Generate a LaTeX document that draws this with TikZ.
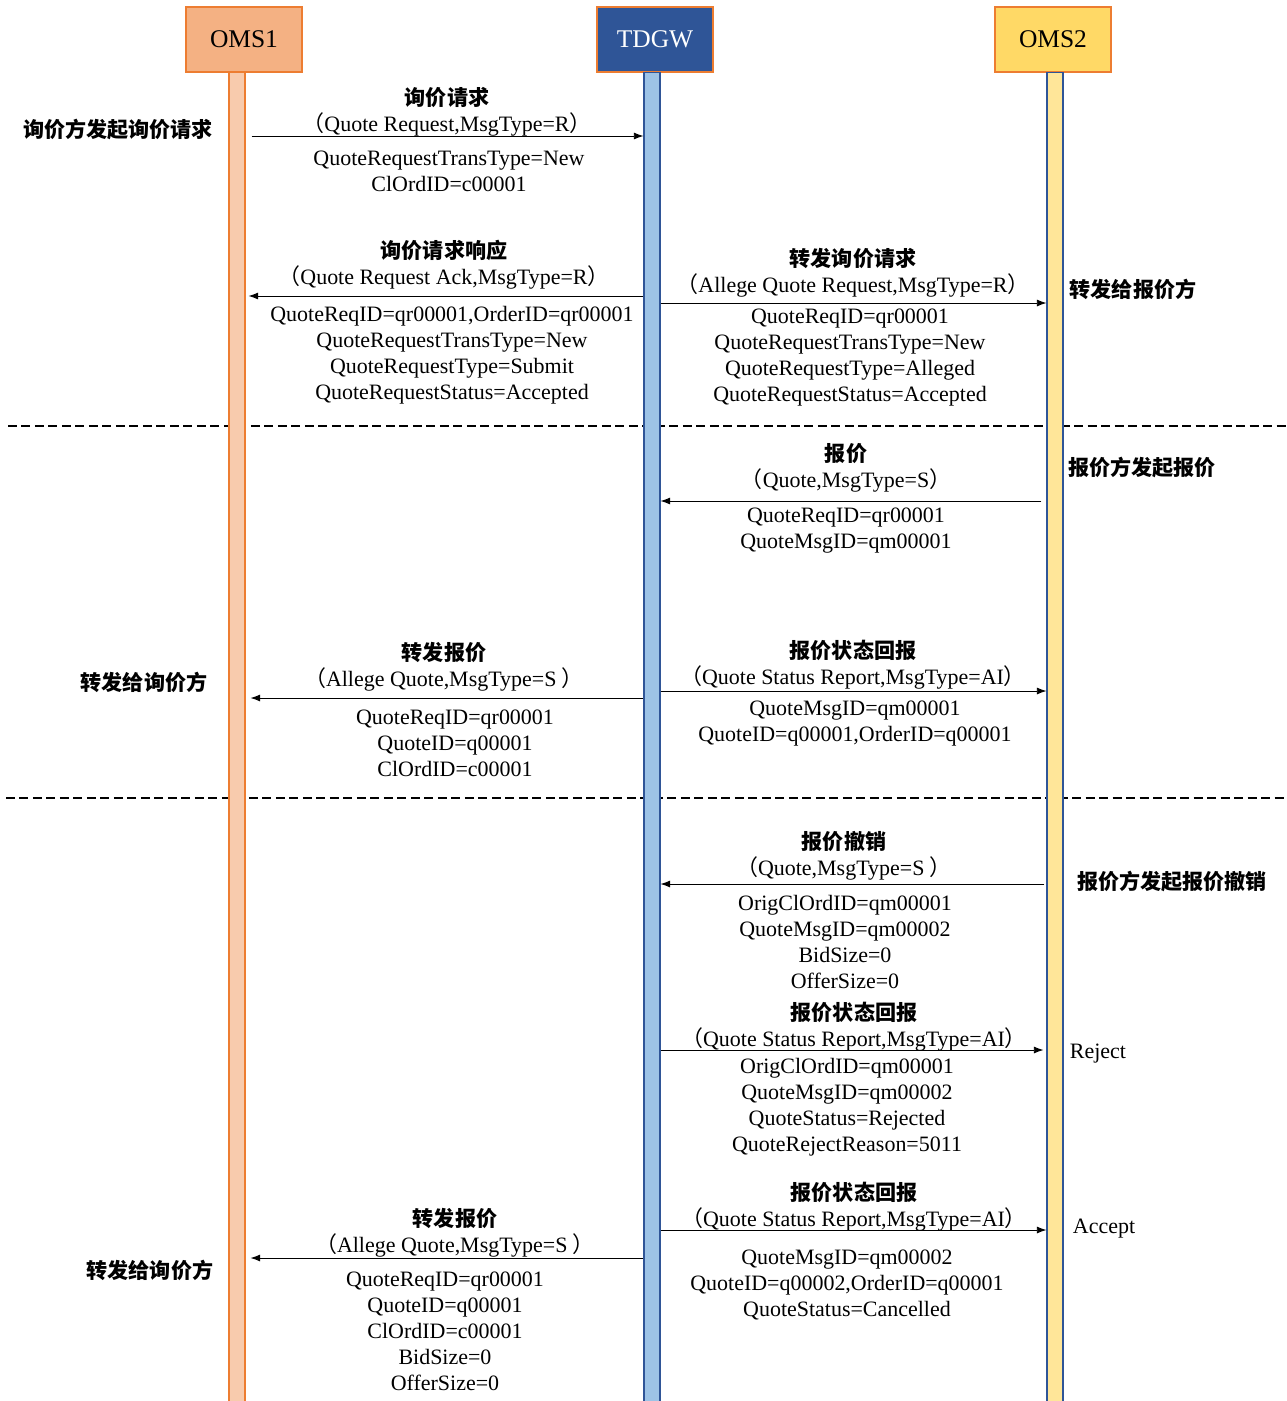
\documentclass[tikz,border=0pt]{standalone}
\usepackage{fontspec}
\setmainfont{Liberation Serif}
\newfontfamily\cjk{Noto Sans CJK SC}
\usetikzlibrary{arrows.meta}

\definecolor{omsAhead}{HTML}{F4B183}
\definecolor{omsAlife}{HTML}{F8CBAD}
\definecolor{gwhead}{HTML}{2F5597}
\definecolor{gwlife}{HTML}{9DC3E6}
\definecolor{omsBhead}{HTML}{FFD966}
\definecolor{omsBlife}{HTML}{FFE699}
\definecolor{edgeorange}{HTML}{ED7D31}
\definecolor{edgeblue}{HTML}{2F5597}

\newcommand{\zh}[1]{{\cjk\bfseries\fontsize{12}{14.8}\selectfont #1}}
\newcommand{\zp}[1]{{\cjk #1}}

\tikzset{
  head/.style={draw=edgeorange, line width=0.6pt, minimum width=2.32cm, minimum height=1.3cm,
               inner sep=0pt, font=\fontsize{14.5}{16}\selectfont},
  life/.style={line width=0.6pt, minimum width=0.32cm, minimum height=26.8cm, inner sep=0pt, anchor=north},
  msg/.style={-{Latex[length=5.5pt,width=4pt]}, line width=0.5pt},
  txt/.style={align=center, inner sep=0pt, font=\fontsize{12.5}{14.8}\selectfont},
  side/.style={inner sep=0pt, font=\cjk\bfseries\fontsize{12}{14}\selectfont},
  sep/.style={dash pattern=on 0.18cm off 0.09cm, line width=0.6pt},
}

\begin{document}
\begin{tikzpicture}[x=0.02cm, y=-0.02cm]
  \useasboundingbox (0,0) rectangle (1287,1401);

  % phase separators
  \draw[sep] (8,426) -- (1287,426);
  \draw[sep] (6,798) -- (1287,798);

  % parties and lifelines
  \node[head, fill=omsAhead]               (oms1) at (244,39.5) {OMS1};
  \node[head, fill=gwhead, text=white]     (gw)   at (655,39.5) {TDGW};
  \node[head, fill=omsBhead]               (oms2) at (1053,39.5) {OMS2};
  \node[life, draw=edgeorange, fill=omsAlife] (l1) at (237,72) {};
  \node[life, draw=edgeblue, fill=gwlife]     (lg) at (652,72) {};
  \node[life, draw=edgeblue, fill=omsBlife]   (l2) at (1055,72) {};

  % quote request
  \draw[msg, shorten <=0.12cm] (l1.east |- 0,136) -- (lg.west |- 0,136);
  \node[txt] (m1top) at (447,111.5) {\zh{询价请求}\\\zp{（}Quote Request,MsgType=R\zp{）}};
  \node[txt] (m1bot) at (449,171) {QuoteRequestTransType=New\\ClOrdID=c00001};
  \node[side] (s1) at (118,129) {询价方发起询价请求};

  % ack back to OMS1
  \draw[msg, shorten >=0.06cm] (lg.west |- 0,296) -- (l1.east |- 0,296);
  \node[txt] (m2top) at (444,264.5) {\zh{询价请求响应}\\\zp{（}Quote Request Ack,MsgType=R\zp{）}};
  \node[txt] (m2bot) at (452,355) {QuoteReqID=qr00001,OrderID=qr00001\\QuoteRequestTransType=New\\QuoteRequestType=Submit\\QuoteRequestStatus=Accepted};

  % forward to OMS2
  \draw[msg] (lg.east |- 0,303) -- (l2.west |- 0,303);
  \node[txt] (m3top) at (853,273) {\zh{转发询价请求}\\\zp{（}Allege Quote Request,MsgType=R\zp{）}};
  \node[txt] (m3bot) at (850,358) {QuoteReqID=qr00001\\QuoteRequestTransType=New\\QuoteRequestType=Alleged\\QuoteRequestStatus=Accepted};
  \node[side] (s3) at (1133,289) {转发给报价方};

  % quote
  \draw[msg, shorten <=0.1cm] (l2.west |- 0,501) -- (lg.east |- 0,501);
  \node[txt] (m4top) at (846,467.5) {\zh{报价}\\\zp{（}Quote,MsgType=S\zp{）}};
  \node[txt] (m4bot) at (846,531) {QuoteReqID=qr00001\\QuoteMsgID=qm00001};
  \node[side] (s4) at (1142,467) {报价方发起报价};

  % forward quote to OMS1
  \draw[msg, shorten >=0.1cm] (lg.west |- 0,698) -- (l1.east |- 0,698);
  \node[txt] (m5top) at (444,666.5) {\zh{转发报价}\\\zp{（}Allege Quote,MsgType=S \zp{）}};
  \node[txt] (m5bot) at (455,743) {QuoteReqID=qr00001\\QuoteID=q00001\\ClOrdID=c00001};
  \node[side] (s5) at (144,682) {转发给询价方};

  % status report to OMS2
  \draw[msg] (lg.east |- 0,691) -- (l2.west |- 0,691);
  \node[txt] (m6top) at (853,664.5) {\zh{报价状态回报}\\\zp{（}Quote Status Report,MsgType=AI\zp{）}};
  \node[txt] (m6bot) at (855,724) {QuoteMsgID=qm00001\\QuoteID=q00001,OrderID=q00001};

  % cancel
  \draw[msg, shorten <=0.04cm] (l2.west |- 0,884) -- (lg.east |- 0,884);
  \node[txt] (m7top) at (844,855.5) {\zh{报价撤销}\\\zp{（}Quote,MsgType=S \zp{）}};
  \node[txt] (m7bot) at (845,942) {OrigClOrdID=qm00001\\QuoteMsgID=qm00002\\BidSize=0\\OfferSize=0};
  \node[side] (s7) at (1172,881) {报价方发起报价撤销};

  % reject
  \draw[msg, shorten >=0.06cm] (lg.east |- 0,1050) -- (l2.west |- 0,1050);
  \node[txt] (m8top) at (854,1026.5) {\zh{报价状态回报}\\\zp{（}Quote Status Report,MsgType=AI\zp{）}};
  \node[txt] (m8bot) at (847,1107) {OrigClOrdID=qm00001\\QuoteMsgID=qm00002\\QuoteStatus=Rejected\\QuoteRejectReason=5011};
  \node[txt] (s8) at (1098,1054) {Reject};

  % accept
  \draw[msg] (lg.east |- 0,1230) -- (l2.west |- 0,1230);
  \node[txt] (m9top) at (854,1206.5) {\zh{报价状态回报}\\\zp{（}Quote Status Report,MsgType=AI\zp{）}};
  \node[txt] (m9bot) at (847,1285) {QuoteMsgID=qm00002\\QuoteID=q00002,OrderID=q00001\\QuoteStatus=Cancelled};
  \node[txt] (s9) at (1104,1229) {Accept};

  % forward cancelled quote to OMS1
  \draw[msg, shorten >=0.1cm] (lg.west |- 0,1258) -- (l1.east |- 0,1258);
  \node[txt] (m10top) at (455,1232.5) {\zh{转发报价}\\\zp{（}Allege Quote,MsgType=S \zp{）}};
  \node[txt] (m10bot) at (445,1331) {QuoteReqID=qr00001\\QuoteID=q00001\\ClOrdID=c00001\\BidSize=0\\OfferSize=0};
  \node[side] (s10) at (150,1270) {转发给询价方};
\end{tikzpicture}
\end{document}
